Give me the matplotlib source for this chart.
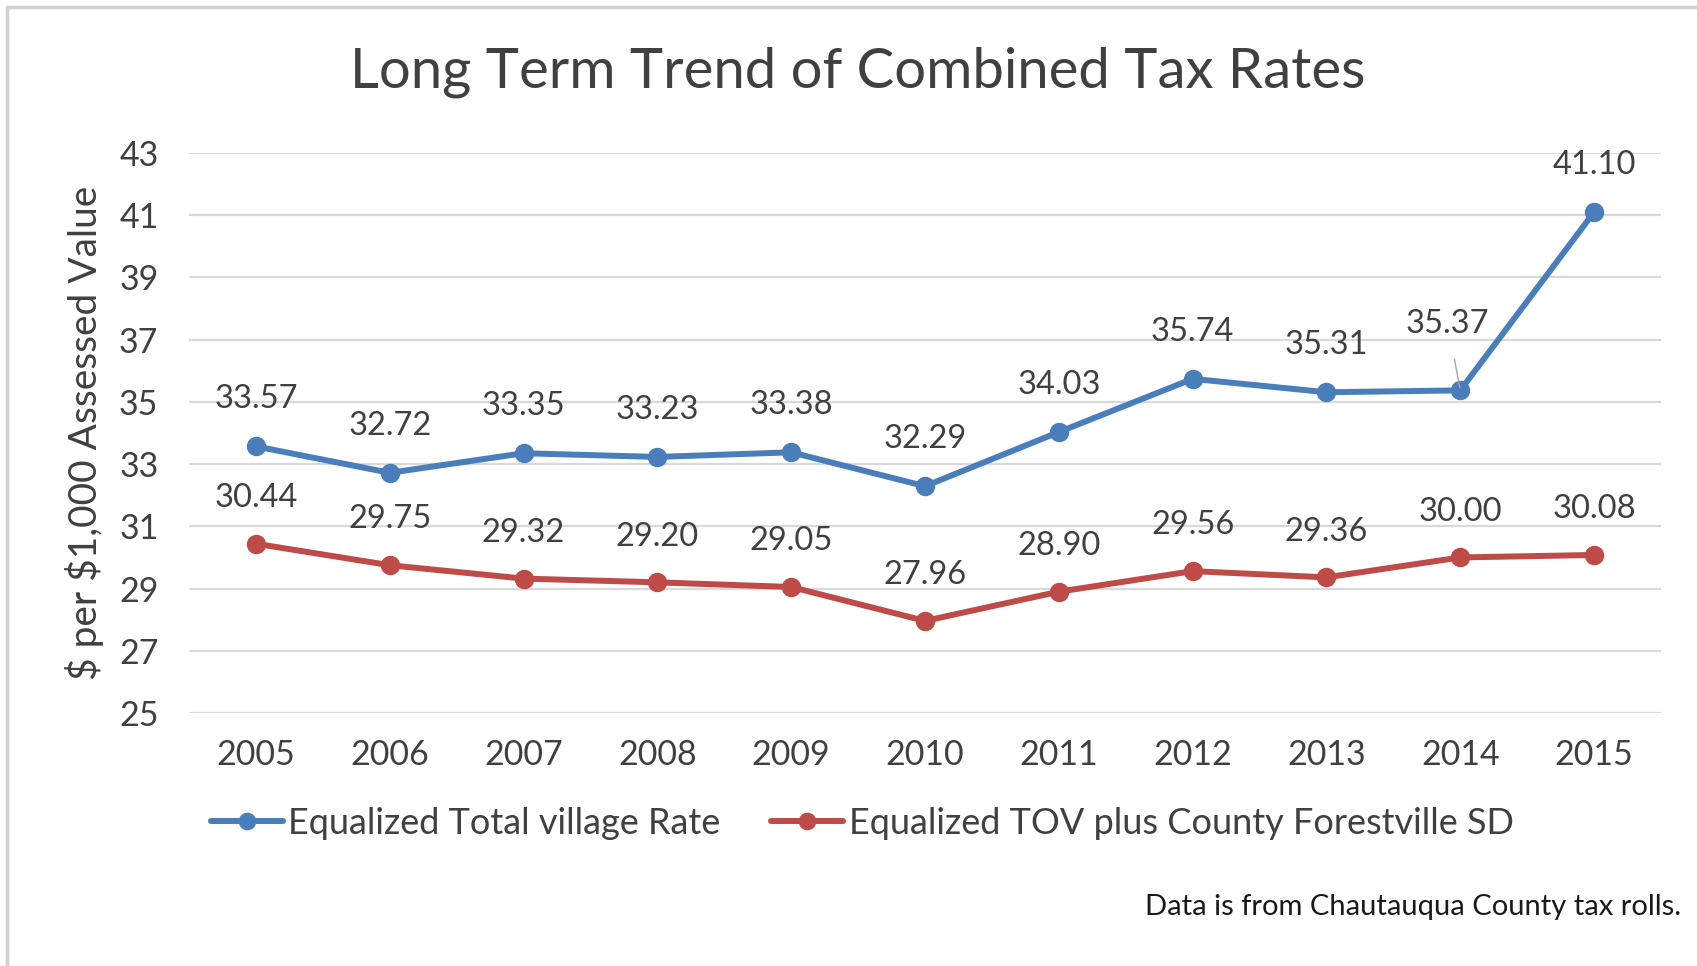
"""Long term trend of combined tax rates, redrawn with matplotlib."""

import matplotlib
matplotlib.use("Agg")
import matplotlib.pyplot as plt
from matplotlib.patches import Rectangle

YEARS = ["2005", "2006", "2007", "2008", "2009", "2010", "2011", "2012", "2013", "2014", "2015"]
VILLAGE_RATE = [33.57, 32.72, 33.35, 33.23, 33.38, 32.29, 34.03, 35.74, 35.31, 35.37, 41.10]
TOV_COUNTY_SD = [30.44, 29.75, 29.32, 29.20, 29.05, 27.96, 28.90, 29.56, 29.36, 30.00, 30.08]
Y_TICKS = [25, 27, 29, 31, 33, 35, 37, 39, 41, 43]

BLUE = "#4A7EBB"
RED = "#BE4B48"
TEXT = "#404040"

plt.rcParams["font.family"] = ["Lato", "DejaVu Sans"]

W, H, DPI = 1697, 966, 100
fig = plt.figure(figsize=(W / DPI, H / DPI), dpi=DPI)
ax = fig.add_axes([189 / W, 1 - 713 / H, (1661 - 189) / W, (713 - 153) / H])

x = list(range(len(YEARS)))
line_kw = dict(linewidth=4.3, marker="o", markersize=13, solid_capstyle="round")
ax.plot(x, VILLAGE_RATE, color=BLUE, label="Equalized Total village Rate", **line_kw)
ax.plot(x, TOV_COUNTY_SD, color=RED, label="Equalized TOV plus County Forestville SD", **line_kw)

label_kw = dict(textcoords="offset points", ha="center", va="center",
                fontsize=23.5, color=TEXT)
for i, val in enumerate(VILLAGE_RATE):
    if i == 9:
        # this label is pushed up-left with a leader line, as in the original
        ax.annotate(f"{val:.2f}", (i, val), xytext=(-9, 48),
                    arrowprops=dict(arrowstyle="-", color="#A6A6A6", lw=1,
                                    shrinkA=13, shrinkB=2), **label_kw)
    else:
        ax.annotate(f"{val:.2f}", (i, val), xytext=(0, 34), **label_kw)
for i, val in enumerate(TOV_COUNTY_SD):
    ax.annotate(f"{val:.2f}", (i, val), xytext=(0, 33), **label_kw)

ax.set_xlim(-0.5, len(YEARS) - 0.5)
ax.set_ylim(Y_TICKS[0], Y_TICKS[-1])
ax.set_yticks(Y_TICKS)
ax.set_xticks(x)
ax.set_xticklabels(YEARS)
ax.tick_params(axis="both", length=0, labelsize=24.5, labelcolor=TEXT)
ax.tick_params(axis="x", pad=19)
ax.tick_params(axis="y", pad=22)
ax.grid(axis="y", color="#D9D9D9", linewidth=1.6)
ax.set_axisbelow(True)
for side in ax.spines.values():
    side.set_visible(False)

ax.set_ylabel(r"\$ per \$1,000 Assessed Value", fontsize=28, color=TEXT, labelpad=11)

fig.text(858 / W, 1 - 72 / H, "Long Term Trend of Combined Tax Rates",
         ha="center", va="center", fontsize=40.5, color=TEXT)

leg = fig.legend(loc="center left", bbox_to_anchor=(178 / W, 1 - 823 / H), ncol=2,
                 frameon=False, fontsize=26, handlelength=2.0, handletextpad=0.15,
                 columnspacing=1.4, labelcolor=TEXT, markerscale=0.9)

fig.text(1681 / W, 1 - 907 / H, "Data is from Chautauqua County tax rolls.",
         ha="right", va="center", fontsize=21, color="#1A1A1A")

# light frame around the picture
fig.patches.append(Rectangle((7 / W, -0.1), 1.2, 1 - 7 / H + 0.1, transform=fig.transFigure,
                             fill=False, edgecolor="#D0D0D0", linewidth=2.5))

fig.savefig("out.png", dpi=DPI)
